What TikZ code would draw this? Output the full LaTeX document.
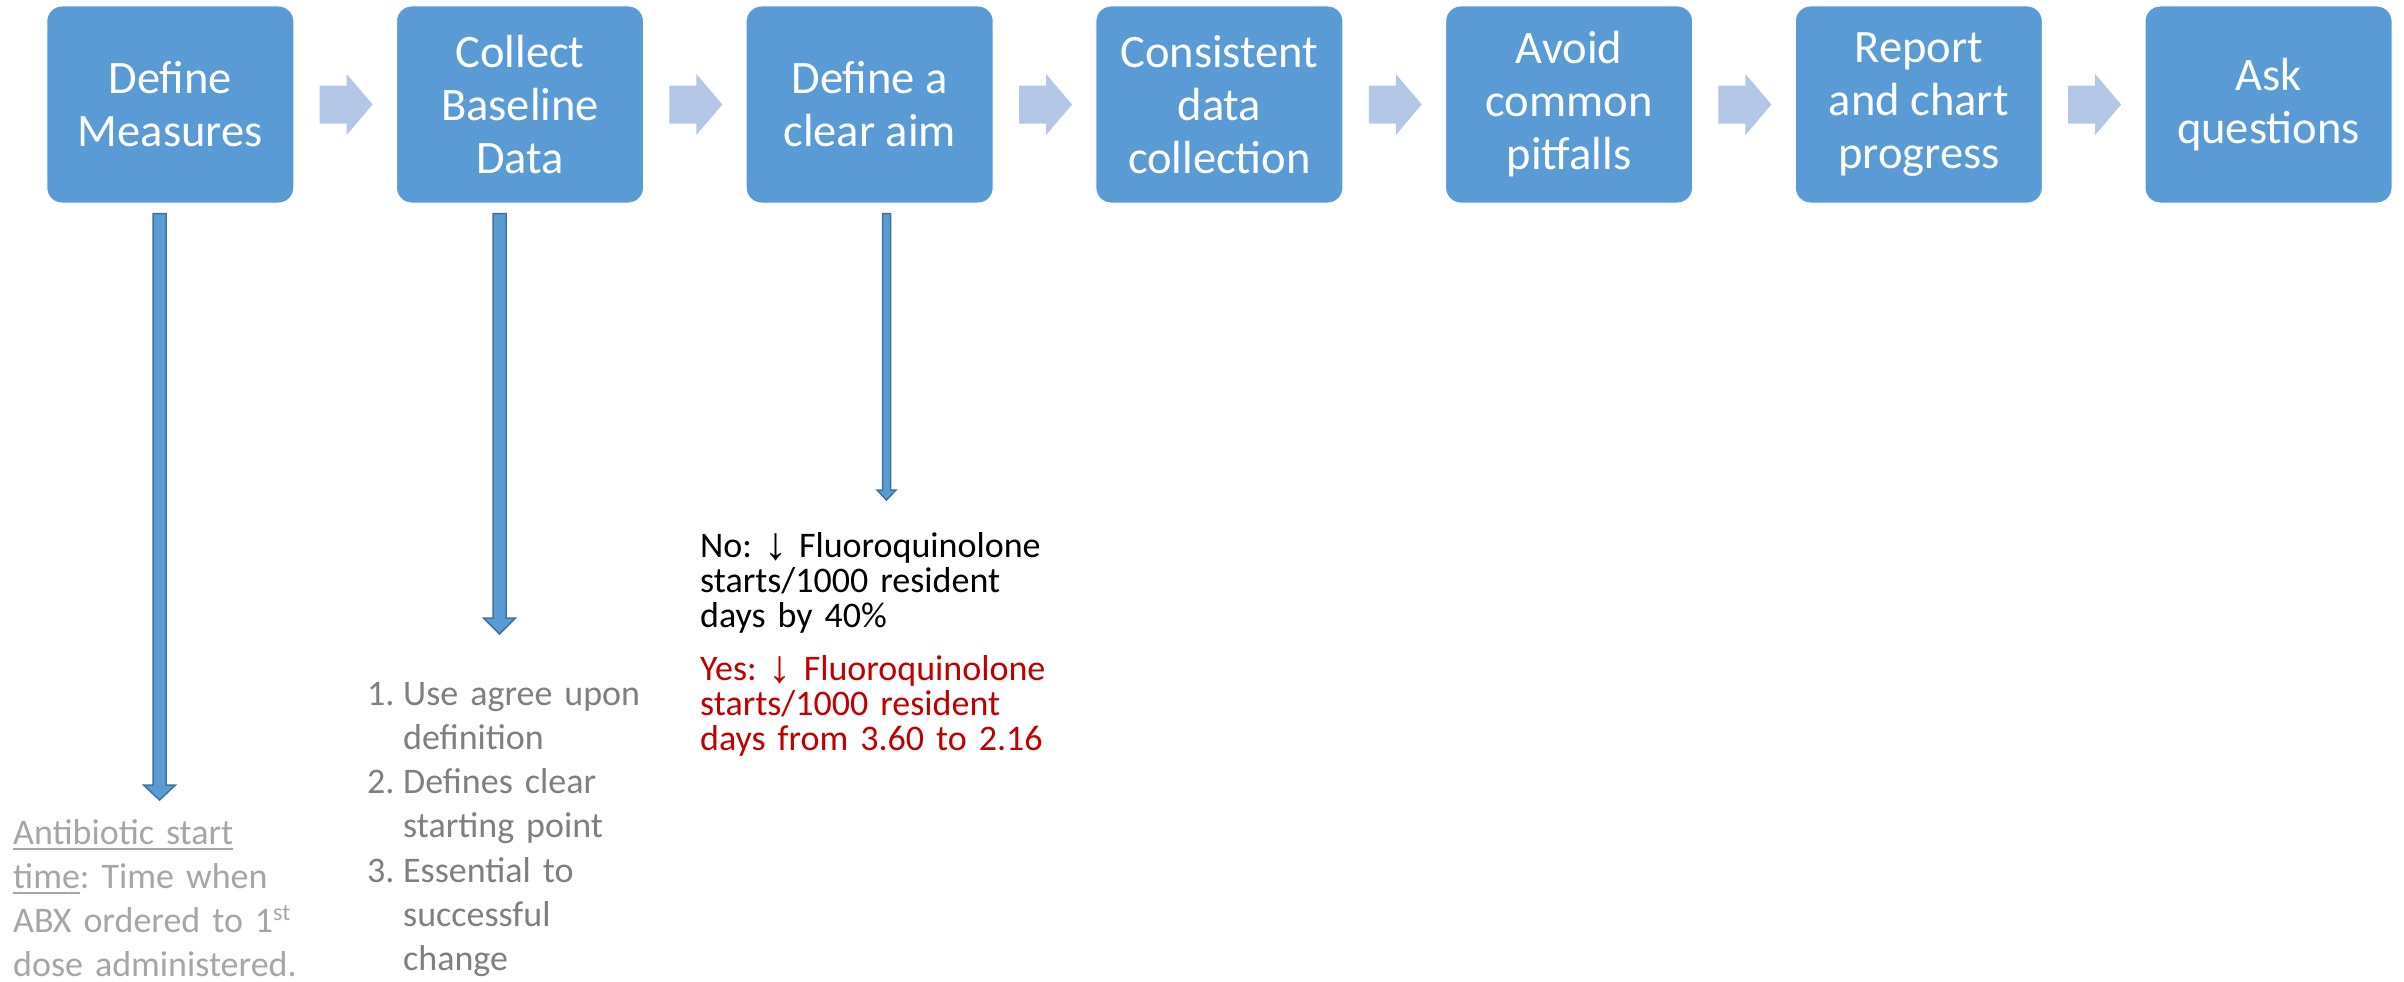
\documentclass[tikz,border=0pt]{standalone}
\usepackage{fontspec}
\setmainfont{Carlito}
\newfontfamily\arrowfont{Liberation Sans}
\usetikzlibrary{calc}
\frenchspacing

\definecolor{boxblue}{HTML}{5B9BD5}
\definecolor{edgeblue}{HTML}{41719C}
\definecolor{chevblue}{HTML}{B4C7E7}
\definecolor{notegray}{HTML}{A6A6A6}
\definecolor{listgray}{HTML}{7F7F7F}
\definecolor{aimred}{HTML}{C00000}

% underline sitting just below the baseline
\newcommand\ulword[1]{\leavevmode\setbox0\hbox{#1}\rlap{\rule[-6pt]{\wd0}{2pt}}\box0}
% downward arrow glyph
\newcommand\dnarrow{\raisebox{-2pt}{\arrowfont\fontsize{46}{46}\selectfont ↓}}
% ordinal superscript
\newcommand\ordsup[1]{\raisebox{12pt}{\fontsize{24}{24}\selectfont #1}}
% thick block arrow pointing down: top, tip, shaft half width, head half width, head length
\newcommand\shaftarrow[5]{%
  \draw[varrow] let \p1=(#1), \p2=(#2) in
    (\x1-#3pt,\y1) -- (\x1+#3pt,\y1) -- (\x1+#3pt,\y2+#5pt) -- (\x1+#4pt,\y2+#5pt)
    -- (\x2,\y2) -- (\x1-#4pt,\y2+#5pt) -- (\x1-#3pt,\y2+#5pt) -- cycle;}

\begin{document}
\begin{tikzpicture}[x=1pt,y=-1pt,
  stepbox/.style={rectangle, rounded corners=15pt, fill=boxblue, draw=white,
    line width=1pt, minimum width=247pt, minimum height=197pt, inner sep=0pt,
    text=white, align=center, font=\fontsize{46.5}{53}\selectfont},
  chev/.style={fill=chevblue, draw=none},
  varrow/.style={fill=boxblue, draw=edgeblue, line width=1.5pt, line join=miter},
  note/.style={anchor=north west, inner sep=0pt, align=left, text width=#1},
]
\useasboundingbox (0,0) rectangle (2404,982);

% process steps
\node[stepbox] (s1) at (170.3,104.5)  {Define\\Measures};
\node[stepbox] (s2) at (520.0,104.5)  {Collect\\Baseline\\Data};
\node[stepbox] (s3) at (869.7,104.5)  {Define a\\clear aim};
\node[stepbox] (s4) at (1219.4,104.5) {Consistent\\data\\collection};
\node[stepbox] (s5) at (1569.1,104.5) {Avoid\\common\\pitfalls};
\node[stepbox] (s6) at (1918.8,104.5) {Report\\and chart\\progress};
\node[stepbox] (s7) at (2268.5,104.5) {Ask\\questions};

% light chevrons between the steps
\foreach \a/\b in {s1/s2,s2/s3,s3/s4,s4/s5,s5/s6,s6/s7}
  \fill[chev] ($(\a.east)!0.5!(\b.west)+(-25.5,-19)$) -- ++(27,0) -- ++(0,-11.5)
    -- ++(26,30.5) -- ++(-26,30.5) -- ++(0,-11.5) -- ++(-27,0) -- cycle;

% notes under the first three steps
\node[note=340pt, text=notegray, font=\fontsize{36}{44}\selectfont] (n1) at (13,814)
  {\lineskiplimit=-100pt\rule{0pt}{30pt}\ulword{Antibiotic start}\\
   \ulword{time}: Time when\\
   ABX ordered to 1\ordsup{st}\\
   dose administered.};

\node[note=360pt, text=listgray, font=\fontsize{36}{44.2}\selectfont] (n2) at (367,675)
  {\lineskiplimit=-100pt\rule{0pt}{30pt}\makebox[36pt][l]{1.}Use agree upon\\
   \hspace*{36pt}definition\\
   \makebox[36pt][l]{2.}Defines clear\\
   \hspace*{36pt}starting point\\
   \makebox[36pt][l]{3.}Essential to\\
   \hspace*{36pt}successful\\
   \hspace*{36pt}change};

\node[note=420pt, text=black, font=\fontsize{36}{35}\selectfont] (n3) at (700,527)
  {\lineskiplimit=-100pt\rule{0pt}{30pt}No: \dnarrow{} Fluoroquinolone\\
   starts/1000 resident\\
   days by 40\%};

\node[note=420pt, text=aimred, font=\fontsize{36}{35}\selectfont] (n4) at (700,650)
  {\lineskiplimit=-100pt\rule{0pt}{30pt}Yes: \dnarrow{} Fluoroquinolone\\
   starts/1000 resident\\
   days from 3.60 to 2.16};

% arrows from the steps down to their notes
\coordinate (d1top) at ($(s1.south)+(-10.8,10)$);
\coordinate (d1tip) at ($(n1.north west)+(146.5,-14)$);
\coordinate (d2top) at ($(s2.south)+(-20.5,10)$);
\coordinate (d2tip) at ($(n2.north west)+(132.5,-41)$);
\coordinate (d3top) at ($(s3.south)+(16.8,10)$);
\coordinate (d3tip) at ($(n3.north west)+(186.5,-27)$);
\shaftarrow{d1top}{d1tip}{6.5}{16}{15}
\shaftarrow{d2top}{d2tip}{6.5}{16}{16}
\shaftarrow{d3top}{d3tip}{4}{9.5}{10}
\end{tikzpicture}
\end{document}
